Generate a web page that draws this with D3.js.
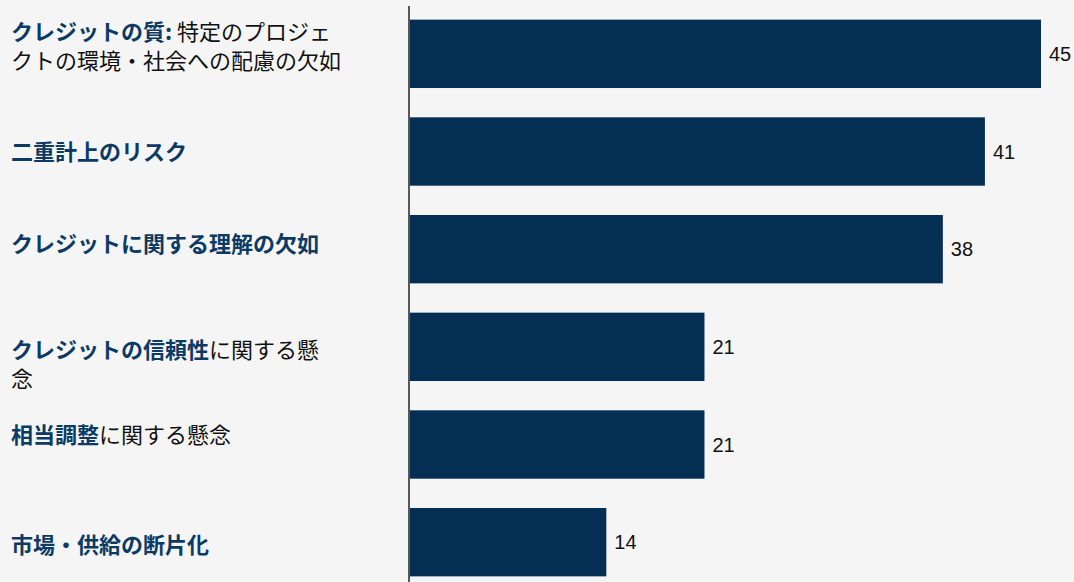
<!DOCTYPE html>
<html>
<head>
<meta charset="utf-8">
<script src="https://cdn.jsdelivr.net/npm/d3@7"></script>
<style>
  body { margin: 0; background: #f5f5f5; }
  svg { display: block; }
</style>
</head>
<body>
<div id="chart"></div>
<script>
var svgWidth = 1074;
var svgHeight = 582;

// each category: lines of [text, highlighted?] segments
var categories = [
    [[["クレジットの質:", true], [" 特定のプロジェ", false]], [["クトの環境・社会への配慮の欠如", false]]],
    [[["二重計上のリスク", true]]],
    [[["クレジットに関する理解の欠如", true]]],
    [[["クレジットの信頼性", true], ["に関する懸", false]], [["念", false]]],
    [[["相当調整", true], ["に関する懸念", false]]],
    [[["市場・供給の断片化", true]]]
];
var values = [45, 41, 38, 21, 21, 14];

var margin = { top: 5, right: 33, bottom: 0, left: 410 };

// label nudges (layout only) so the text sits where the original does
var labelShift = [-7, 1, -5, 18, -9, 3];

var svg = d3.select("#chart")
    .append("svg")
    .attr("width", svgWidth)
    .attr("height", svgHeight);

svg.append("rect")
    .attr("width", svgWidth)
    .attr("height", svgHeight)
    .attr("fill", "#f5f5f5");

var idx = d3.range(values.length);

var xScale = d3.scaleLinear()
    .domain([0, 45])
    .range([margin.left, 1041]);

var yScale = d3.scaleBand()
    .domain(idx)
    .range([margin.top, 591])
    .paddingInner(0.3)
    .paddingOuter(0.15);

// bars
svg.selectAll("rect.bar")
    .data(idx)
    .enter()
    .append("rect")
    .attr("class", "bar")
    .attr("x", xScale(0))
    .attr("y", i => yScale(i))
    .attr("width", i => xScale(values[i]) - xScale(0))
    .attr("height", yScale.bandwidth())
    .attr("fill", "#052e53");

// axis line
svg.append("line")
    .attr("x1", 409)
    .attr("x2", 409)
    .attr("y1", 6)
    .attr("y2", svgHeight)
    .attr("stroke", "#222")
    .attr("stroke-width", 1.5);

// value labels
svg.selectAll("text.val")
    .data(idx)
    .enter()
    .append("text")
    .attr("class", "val")
    .attr("x", i => xScale(values[i]) + 8)
    .attr("y", i => yScale(i) + yScale.bandwidth() / 2)
    .attr("dy", "0.36em")
    .attr("font-family", "'Liberation Sans', Arial, sans-serif")
    .attr("font-size", 20)
    .attr("fill", "#111")
    .text(i => values[i]);

// category labels
var lineH = 29;
idx.forEach(function(i) {
    var lines = categories[i];
    var cy = yScale(i) + yScale.bandwidth() / 2 + labelShift[i];
    var y0 = cy - (lines.length - 1) * lineH / 2;
    var t = svg.append("text")
        .attr("font-family", "'Noto Sans CJK JP', 'Noto Sans', sans-serif")
        .attr("font-size", 22);
    lines.forEach(function(line, li) {
        line.forEach(function(seg, si) {
            var ts = t.append("tspan")
                .attr("font-weight", seg[1] ? "bold" : "normal")
                .attr("fill", seg[1] ? "#0b3a64" : "#111")
                .text(seg[0]);
            if (si === 0) {
                ts.attr("x", 11).attr("y", y0 + li * lineH).attr("dy", "0.36em");
            }
        });
    });
});
</script>
</body>
</html>
